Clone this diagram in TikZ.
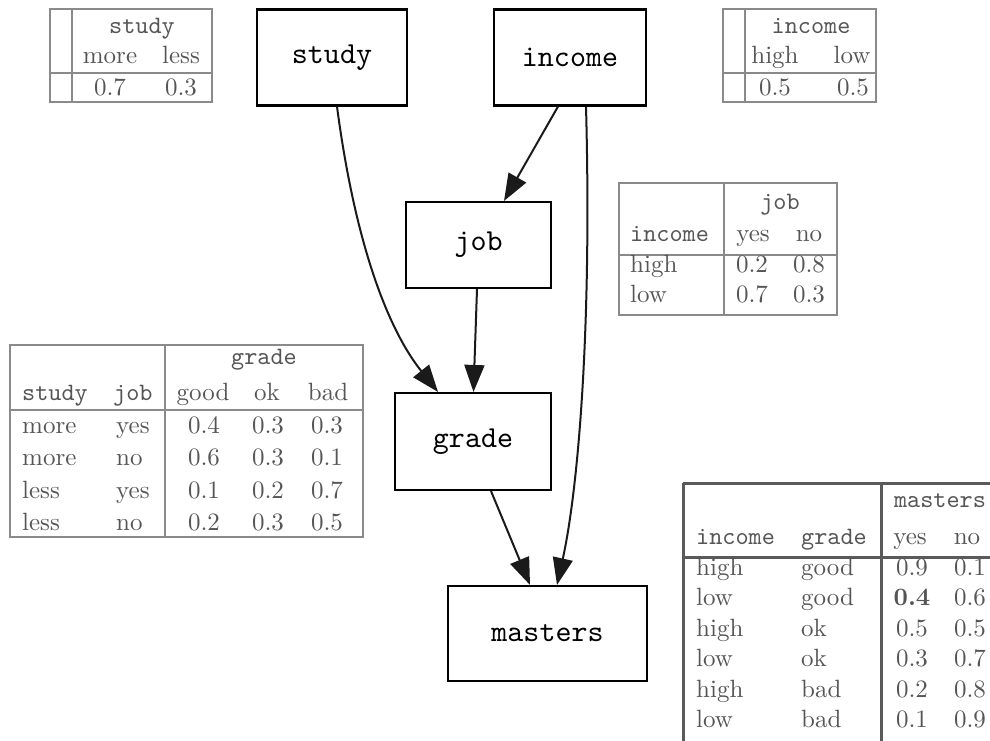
\documentclass[tikz,border=0pt]{standalone}
\usepackage{fontspec}
\setmainfont{lmroman10-regular}[Extension=.otf, BoldFont=lmroman10-bold]
\setmonofont{lmmono10-regular}[Extension=.otf]
\usetikzlibrary{arrows.meta}
\definecolor{tabtext}{HTML}{555555}
\definecolor{tabline}{HTML}{8A8A8A}
\definecolor{tabdark}{HTML}{5A5A5A}
\definecolor{edgecol}{HTML}{1A1A1A}
\tikzset{
  varbox/.style={draw=black, line width=2.1pt, fill=white, inner sep=0pt,
    font=\fontsize{30.5}{36}\selectfont\ttfamily},
  edge/.style={draw=edgecol, line width=2pt,
    -{Triangle[length=27pt,width=20pt]}},
  tc/.style={anchor=base, text=tabtext, inner sep=0pt,
    font=\fontsize{25}{30}\selectfont},
  tl/.style={tc, anchor=base west},
  tt/.style={font=\fontsize{25}{30}\selectfont\ttfamily},
  thin/.style={draw=tabline, line width=1.3pt},
  thick/.style={draw=tabdark, line width=3pt},
}
\begin{document}
\begin{tikzpicture}[x=1pt,y=-1pt]
\useasboundingbox (0,0) rectangle (990,740);
% ---------------- variable nodes
\node[varbox, minimum width=150pt, minimum height=96pt] (study) at (332,57.5) {study};
\node[varbox, minimum width=152pt, minimum height=96pt] (income) at (570,57.5) {income};
\node[varbox, minimum width=145pt, minimum height=86pt] (job) at (478.5,245) {job};
\node[varbox, minimum width=156pt, minimum height=97pt] (grade) at (473,441.5) {grade};
\node[varbox, minimum width=199pt, minimum height=95pt] (masters) at (547.5,633.5) {masters};
% ---------------- edges
\draw[edge] ([xshift=5pt]study.south) .. controls (356,250) and (390,332) .. ([xshift=-35pt]grade.north);
\draw[edge] ([xshift=-12pt]income.south) -- ([xshift=25.5pt]job.north);
\draw[edge] ([xshift=16pt]income.south) .. controls (592,330) and (578,490) .. ([xshift=9.5pt]masters.north);
\draw[edge] ([xshift=-1.5pt]job.south) -- ([xshift=0.5pt]grade.north);
\draw[edge] ([xshift=18pt]grade.south) -- ([xshift=-17.5pt]masters.north);
% ---------------- study table
\draw[thin] (50,9) rectangle (212,102);
\draw[thin] (72,9) -- (72,102);
\draw[thin] (50,73) -- (212,73);
\node[tc,tt] (s0) at (142,33) {study};
\node[tc] (s1) at (110,63) {more};
\node[tc] (s2) at (181,63) {less};
\node[tc] (s3) at (110,95) {0.7};
\node[tc] (s4) at (181,95) {0.3};
% ---------------- income table
\draw[thin] (723,9) rectangle (876,102);
\draw[thin] (745,9) -- (745,102);
\draw[thin] (723,73) -- (876,73);
\node[tc,tt] (i0) at (811,33) {income};
\node[tc] (i1) at (775,63) {high};
\node[tc] (i2) at (852,63) {low};
\node[tc] (i3) at (775,95) {0.5};
\node[tc] (i4) at (853,95) {0.5};
% ---------------- job table
\draw[thin] (619,183) rectangle (837,315);
\draw[thin] (724,183) -- (724,315);
\draw[thin] (619,255) -- (837,255);
\node[tc,tt] (j0) at (780,209) {job};
\node[tl,tt] (j1) at (630,241) {income};
\node[tc] (j2) at (753,241) {yes};
\node[tc] (j3) at (809,241) {no};
\node[tl] (j4) at (630,272) {high};
\node[tc] (j5) at (752,272) {0.2};
\node[tc] (j6) at (809,272) {0.8};
\node[tl] (j7) at (630,302) {low};
\node[tc] (j8) at (752,302) {0.7};
\node[tc] (j9) at (809,302) {0.3};
% ---------------- grade table
\draw[thin] (10,345) rectangle (363,537);
\draw[thin] (165,345) -- (165,537);
\draw[thin] (10,410) -- (363,410);
\node[tc,tt] (g0) at (264,364) {grade};
\node[tl,tt] (g1) at (22,400) {study};
\node[tl,tt] (g2) at (113,400) {job};
\node[tc] (g3) at (203,400) {good};
\node[tc] (g4) at (267,400) {ok};
\node[tc] (g5) at (328,400) {bad};
\node[tl] (g6) at (22,433) {more};
\node[tl] (g7) at (116,433) {yes};
\node[tc] (g8) at (204,433) {0.4};
\node[tc] (g9) at (268,433) {0.3};
\node[tc] (g10) at (327,433) {0.3};
\node[tl] (g11) at (22,465) {more};
\node[tl] (g12) at (116,465) {no};
\node[tc] (g13) at (204,465) {0.6};
\node[tc] (g14) at (268,465) {0.3};
\node[tc] (g15) at (327,465) {0.1};
\node[tl] (g16) at (22,498) {less};
\node[tl] (g17) at (116,498) {yes};
\node[tc] (g18) at (204,498) {0.1};
\node[tc] (g19) at (268,498) {0.2};
\node[tc] (g20) at (327,498) {0.7};
\node[tl] (g21) at (22,530) {less};
\node[tl] (g22) at (116,530) {no};
\node[tc] (g23) at (204,530) {0.2};
\node[tc] (g24) at (268,530) {0.3};
\node[tc] (g25) at (327,530) {0.5};
% ---------------- masters table (cut by the picture edge)
\begin{scope}
\clip (0,0) rectangle (990,740);
\draw[thick] (683,483) -- (1010,483);
\draw[thick] (683,483) -- (683,760);
\draw[thick] (881,483) -- (881,760);
\draw[thick] (683,557) -- (1010,557);
\node[tc,tt] (m0) at (940,507) {masters};
\node[tl,tt] (m1) at (696,544) {income};
\node[tl,tt] (m2) at (801,544) {grade};
\node[tc] (m3) at (910,544) {yes};
\node[tc] (m4) at (967,544) {no};
\node[tl] (m5) at (696,575) {high};
\node[tl] (m6) at (801,575) {good};
\node[tc] (m7) at (912,575) {0.9};
\node[tc] (m8) at (970,575) {0.1};
\node[tl] (m9) at (696,605) {low};
\node[tl] (m10) at (801,605) {good};
\node[tc] (m11) at (912,605) {\textbf{0.4}};
\node[tc] (m12) at (970,605) {0.6};
\node[tl] (m13) at (696,636) {high};
\node[tl] (m14) at (801,636) {ok};
\node[tc] (m15) at (912,636) {0.5};
\node[tc] (m16) at (970,636) {0.5};
\node[tl] (m17) at (696,666) {low};
\node[tl] (m18) at (801,666) {ok};
\node[tc] (m19) at (912,666) {0.3};
\node[tc] (m20) at (970,666) {0.7};
\node[tl] (m21) at (696,697) {high};
\node[tl] (m22) at (801,697) {bad};
\node[tc] (m23) at (912,697) {0.2};
\node[tc] (m24) at (970,697) {0.8};
\node[tl] (m25) at (696,727) {low};
\node[tl] (m26) at (801,727) {bad};
\node[tc] (m27) at (912,727) {0.1};
\node[tc] (m28) at (970,727) {0.9};
\end{scope}
\end{tikzpicture}
\end{document}
